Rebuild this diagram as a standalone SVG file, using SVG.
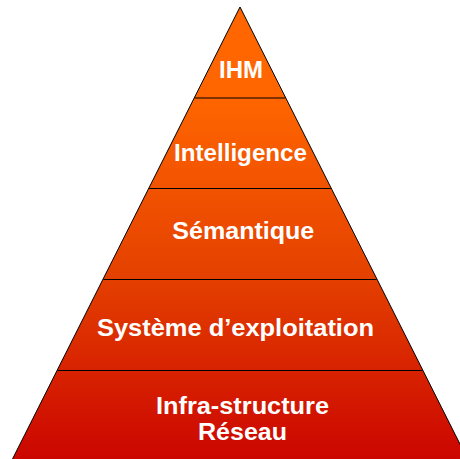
<svg xmlns="http://www.w3.org/2000/svg" width="460" height="459" viewBox="0 0 460 459">
  <defs>
    <linearGradient id="layerFill" gradientUnits="userSpaceOnUse" x1="0" y1="95" x2="0" y2="461">
      <stop offset="0" stop-color="#FF6600"/>
      <stop offset="0.5" stop-color="#E44000"/>
      <stop offset="1" stop-color="#CB0500"/>
    </linearGradient>
    <style>
      .edge { fill: url(#layerFill); stroke: #000; stroke-width: 1; }
      .divider { stroke: #000; stroke-width: 1; }
      .label { font-family: "Liberation Sans", Arial, sans-serif; font-weight: bold; font-size: 24px; fill: #fff; text-anchor: middle; }
    </style>
  </defs>
  <rect width="460" height="459" fill="#fff"/>

  <!-- pyramid body -->
  <polygon class="edge" points="240,7 468.5,461 11.5,461"/>

  <!-- layer boundaries -->
  <g id="connectors">
    <line class="divider" x1="194.7" y1="98" x2="285.3" y2="98"/>
    <line class="divider" x1="149.2" y1="188.5" x2="330.8" y2="188.5"/>
    <line class="divider" x1="103.4" y1="279.5" x2="376.6" y2="279.5"/>
    <line class="divider" x1="57.6" y1="370.5" x2="422.4" y2="370.5"/>
  </g>

  <g id="ihm"><text class="label" x="241" y="78" textLength="44" lengthAdjust="spacingAndGlyphs">IHM</text></g>
  <g id="intelligence"><text class="label" x="240.5" y="161" textLength="133" lengthAdjust="spacingAndGlyphs">Intelligence</text></g>
  <g id="semantique"><text class="label" x="243.3" y="238.5" textLength="142" lengthAdjust="spacingAndGlyphs">Sémantique</text></g>
  <g id="systeme"><text class="label" x="235.5" y="336" textLength="277" lengthAdjust="spacingAndGlyphs">Système d’exploitation</text></g>
  <g id="infrastructure">
    <text class="label" x="242.5" y="414" textLength="173" lengthAdjust="spacingAndGlyphs">Infra-structure</text>
    <text class="label" x="242.5" y="440" textLength="89" lengthAdjust="spacingAndGlyphs">Réseau</text>
  </g>
</svg>
